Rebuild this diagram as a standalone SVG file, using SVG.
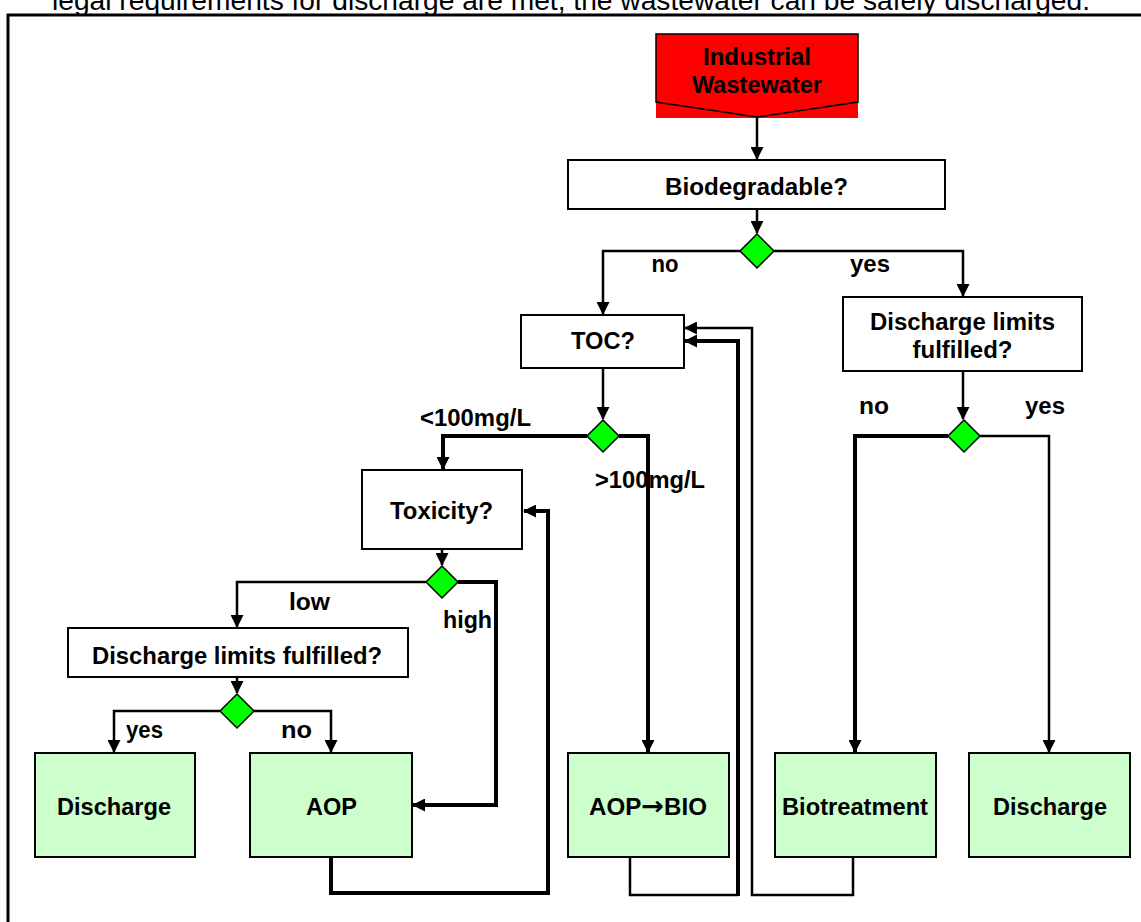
<svg xmlns="http://www.w3.org/2000/svg" width="1141" height="922" viewBox="0 0 1141 922">
<style>
.box{fill:#fff;stroke:#000;stroke-width:2}
.proc{fill:#CCFFCC;stroke:#000;stroke-width:2}
.dia{fill:#00FF00;stroke:#000;stroke-width:1.5}
.t{font-family:"Liberation Sans",Arial,sans-serif;font-weight:bold;font-size:23px;text-anchor:middle;fill:#000}
.c{fill:none;stroke:#000;stroke-width:2.5;stroke-linejoin:miter}
.k{stroke-width:4}
</style>
<defs>
<marker id="ah" markerUnits="userSpaceOnUse" markerWidth="13" markerHeight="13" refX="12" refY="6.5" orient="auto" viewBox="0 0 13 13">
<path d="M0,0 L13,6.5 L0,13 z" fill="#000"/>
</marker>
</defs>
<rect width="1141" height="922" fill="#fff"/>
<text x="571" y="10" font-family="Liberation Sans,Arial,sans-serif" font-size="28" text-anchor="middle" textLength="1038" lengthAdjust="spacingAndGlyphs">legal requirements for discharge are met, the wastewater can be safely discharged.</text>
<path d="M8,922 V15 H1141" fill="none" stroke="#000" stroke-width="3"/>

<g id="connectors">
<path class="c" d="M757,117 V159" marker-end="url(#ah)"/>
<path class="c" d="M757,209 V233" marker-end="url(#ah)"/>
<path class="c" d="M740,251 H603 V314" marker-end="url(#ah)"/>
<path class="c" d="M774,251 H963 V296" marker-end="url(#ah)"/>
<path class="c" d="M963,371 V419" marker-end="url(#ah)"/>
<path class="c k" d="M948,436 H855 V752" marker-end="url(#ah)"/>
<path class="c" d="M980,436 H1049 V752" marker-end="url(#ah)"/>
<path class="c" d="M603,368 V419" marker-end="url(#ah)"/>
<path class="c k" d="M587,436 H443 V469" marker-end="url(#ah)"/>
<path class="c k" d="M619,436 H648 V752" marker-end="url(#ah)"/>
<path class="c" d="M442,549 V565" marker-end="url(#ah)"/>
<path class="c" d="M426,582 H237 V627" marker-end="url(#ah)"/>
<path class="c k" d="M458,582 H496 V805 H413" marker-end="url(#ah)"/>
<path class="c" d="M237,677 V693" marker-end="url(#ah)"/>
<path class="c" d="M220,711 H114 V752" marker-end="url(#ah)"/>
<path class="c" d="M254,711 H331 V752" marker-end="url(#ah)"/>
<path class="c k" d="M331,857 V893 H548 V511 H524" marker-end="url(#ah)"/>
<path class="c" d="M630,857 V895 H738"/>
<path class="c k" d="M738,896 V341 H685" marker-end="url(#ah)"/>
<path class="c" d="M853,857 V895 H752 V328 H685" marker-end="url(#ah)"/>
<text class="t" x="665" y="272" textLength="27" lengthAdjust="spacingAndGlyphs">no</text>
<text class="t" x="870" y="272" textLength="40" lengthAdjust="spacingAndGlyphs">yes</text>
<text class="t" x="874" y="414" textLength="30" lengthAdjust="spacingAndGlyphs">no</text>
<text class="t" x="1045" y="414" textLength="40" lengthAdjust="spacingAndGlyphs">yes</text>
<text class="t" x="475.5" y="426" textLength="111" lengthAdjust="spacingAndGlyphs">&lt;100mg/L</text>
<text class="t" x="650" y="488" textLength="110" lengthAdjust="spacingAndGlyphs">&gt;100mg/L</text>
<text class="t" x="309.5" y="610" textLength="41" lengthAdjust="spacingAndGlyphs">low</text>
<text class="t" x="467.5" y="628" textLength="49" lengthAdjust="spacingAndGlyphs">high</text>
<text class="t" x="144.5" y="738" textLength="37" lengthAdjust="spacingAndGlyphs">yes</text>
<text class="t" x="296.5" y="738" textLength="31" lengthAdjust="spacingAndGlyphs">no</text>
</g>

<g id="industrial-wastewater">
<rect x="656" y="34" width="202" height="84" fill="#FF0000"/>
<polygon points="656,34 858,34 858,102 757,117 656,102" fill="#FF0000" stroke="#000" stroke-width="1.5"/>
<text class="t" x="757" y="65" textLength="108" lengthAdjust="spacingAndGlyphs">Industrial</text>
<text class="t" x="757" y="93" textLength="130" lengthAdjust="spacingAndGlyphs">Wastewater</text>
</g>
<g id="biodegradable">
<rect class="box" x="568" y="160" width="377" height="49"/>
<text class="t" x="756.5" y="195" textLength="183" lengthAdjust="spacingAndGlyphs">Biodegradable?</text>
</g>
<g id="d1"><polygon class="dia" points="757,234 774,251 757,268 740,251"/></g>
<g id="toc">
<rect class="box" x="521" y="315" width="163" height="53"/>
<text class="t" x="603" y="349" textLength="64" lengthAdjust="spacingAndGlyphs">TOC?</text>
</g>
<g id="discharge-limits-right">
<rect class="box" x="843" y="297" width="239" height="74"/>
<text class="t" x="962.5" y="330" textLength="185" lengthAdjust="spacingAndGlyphs">Discharge limits</text>
<text class="t" x="962.5" y="358" textLength="100" lengthAdjust="spacingAndGlyphs">fulfilled?</text>
</g>
<g id="d2"><polygon class="dia" points="964,420 980,436 964,452 948,436"/></g>
<g id="d3"><polygon class="dia" points="603,420 619,436 603,452 587,436"/></g>
<g id="toxicity">
<rect class="box" x="362" y="470" width="160" height="79"/>
<text class="t" x="441.5" y="519" textLength="103" lengthAdjust="spacingAndGlyphs">Toxicity?</text>
</g>
<g id="d4"><polygon class="dia" points="442,566 458,582 442,598 426,582"/></g>
<g id="discharge-limits-left">
<rect class="box" x="68" y="628" width="340" height="49"/>
<text class="t" x="237" y="664" textLength="290" lengthAdjust="spacingAndGlyphs">Discharge limits fulfilled?</text>
</g>
<g id="d5"><polygon class="dia" points="237,694 254,711 237,728 220,711"/></g>
<g id="discharge-left">
<rect class="proc" x="35" y="753" width="160" height="104"/>
<text class="t" x="114" y="815" textLength="114" lengthAdjust="spacingAndGlyphs">Discharge</text>
</g>
<g id="aop">
<rect class="proc" x="250" y="753" width="162" height="104"/>
<text class="t" x="331.5" y="815" textLength="51" lengthAdjust="spacingAndGlyphs">AOP</text>
</g>
<g id="aop-bio">
<rect class="proc" x="568" y="753" width="161" height="104"/>
<text class="t" x="648" y="815" textLength="118" lengthAdjust="spacingAndGlyphs">AOP<tspan font-family="DejaVu Sans,sans-serif" font-size="26">→</tspan>BIO</text>
</g>
<g id="biotreatment">
<rect class="proc" x="775" y="753" width="161" height="104"/>
<text class="t" x="855" y="815" textLength="146" lengthAdjust="spacingAndGlyphs">Biotreatment</text>
</g>
<g id="discharge-right">
<rect class="proc" x="969" y="753" width="161" height="104"/>
<text class="t" x="1050" y="815" textLength="114" lengthAdjust="spacingAndGlyphs">Discharge</text>
</g>
</svg>
